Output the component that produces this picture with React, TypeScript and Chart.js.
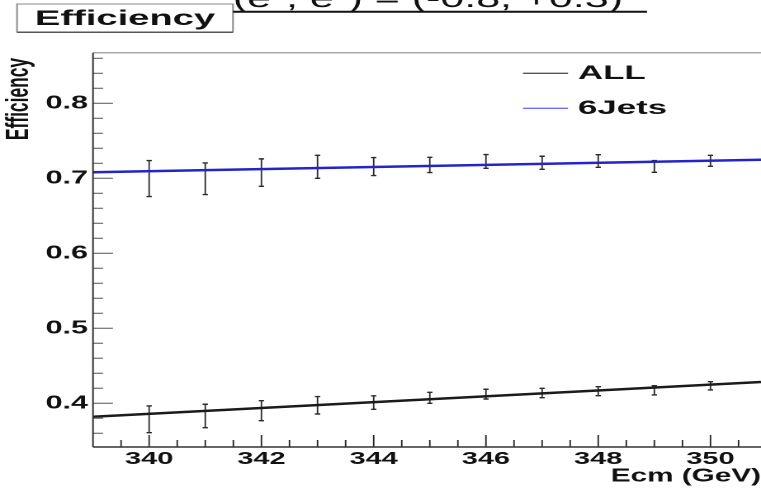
import React, { useEffect, useRef } from 'react';
import { Chart, registerables } from 'chart.js';

Chart.register(...registerables);

// Centre-of-mass energies of the scan points (GeV)
const energies = [340, 341, 342, 343, 344, 345, 346, 347, 348, 349, 350];

// Selection efficiency, all events
const allEff = [0.3786, 0.3831, 0.3901, 0.3973, 0.401, 0.4073, 0.4122, 0.4137, 0.4161, 0.4173, 0.4233];
const allErr = [0.0178, 0.0156, 0.0133, 0.0116, 0.009, 0.0073, 0.0065, 0.0063, 0.006, 0.0062, 0.0055];

// Selection efficiency, six-jet events
const jetsEff = [0.6996, 0.6994, 0.7076, 0.7153, 0.7156, 0.7178, 0.7225, 0.7207, 0.7231, 0.7158, 0.7233];
const jetsErr = [0.024, 0.0211, 0.0183, 0.0153, 0.012, 0.0102, 0.0092, 0.0087, 0.0084, 0.0078, 0.0073];

// Straight-line fits, evaluated at both ends of the energy axis
const fitEnergies = [339, 350.9];
const allFit = [0.382, 0.4284];
const jetsFit = [0.708, 0.7248];

// Labelled ticks
const yLabelTicks = [0.4, 0.5, 0.6, 0.7, 0.8];
const xLabelTicks = [340, 342, 344, 346, 348, 350];

// Axis ranges
const xRange = [339, 350.9];
const yRange = [0.3417, 0.8675];

// The canvas is laid out narrow and stretched sideways, giving the wide lettering of the plot
const OUT_W = 761;
const OUT_H = 489;
const W = 461;
const SX = OUT_W / W;
const PLOT_LEFT = 93 / SX;
const PLOT_TOP = 52.7;
const PLOT_BOTTOM = 447;
const FONT = "'Liberation Sans', Arial, Helvetica, sans-serif";

// draws text with an extra sideways stretch
function wideText(ctx: any, text: string, x: number, y: number, stretch: number) {
  ctx.save();
  ctx.translate(x, y);
  ctx.scale(stretch, 1);
  ctx.fillText(text, 0, 0);
  ctx.restore();
}

const frame = {
  id: 'frame',
  beforeDatasetsDraw(chart: any) {
    const { ctx, scales } = chart;
    const xs = scales.x;
    const ys = scales.y;
    ctx.save();
    ctx.beginPath();
    ctx.rect(chart.chartArea.left, chart.chartArea.top, chart.chartArea.right - chart.chartArea.left, chart.chartArea.bottom - chart.chartArea.top);
    ctx.clip();
    chart.data.datasets.forEach((ds: any) => {
      if (!ds.errors) return;
      ctx.strokeStyle = '#2a2a2a';
      ds.data.forEach((p: any, i: number) => {
        const px = xs.getPixelForValue(p.x);
        const top = ys.getPixelForValue(p.y + ds.errors[i]);
        const bot = ys.getPixelForValue(p.y - ds.errors[i]);
        ctx.lineWidth = 0.9;
        ctx.beginPath();
        ctx.moveTo(px, top);
        ctx.lineTo(px, bot);
        ctx.stroke();
        ctx.lineWidth = 1.4;
        ctx.beginPath();
        ctx.moveTo(px - 1.6, top);
        ctx.lineTo(px + 1.6, top);
        ctx.moveTo(px - 1.6, bot);
        ctx.lineTo(px + 1.6, bot);
        ctx.stroke();
      });
    });
    ctx.restore();
  },
  afterDraw(chart: any) {
    const { ctx, chartArea, scales } = chart;
    const xs = scales.x;
    const ys = scales.y;
    const { left, right, top, bottom } = chartArea;
    ctx.save();

    // frame top edge
    ctx.strokeStyle = '#a8a8a8';
    ctx.lineWidth = 1.5;
    ctx.beginPath();
    ctx.moveTo(left, top);
    ctx.lineTo(right, top);
    ctx.stroke();

    // y ticks, pointing inwards
    ctx.strokeStyle = '#707070';
    ctx.lineWidth = 1.2;
    for (let k = 18; k <= 43; k++) {
      const v = k / 50;
      const py = ys.getPixelForValue(v);
      if (py < top || py > bottom) continue;
      const len = k % 5 === 0 ? 12.1 : 6.1;
      ctx.beginPath();
      ctx.moveTo(left, py);
      ctx.lineTo(left + len, py);
      ctx.stroke();
    }

    // x ticks, pointing inwards
    ctx.strokeStyle = '#222';
    ctx.lineWidth = 0.9;
    for (let k = 679; k <= 701; k++) {
      const v = k / 2;
      const px = xs.getPixelForValue(v);
      if (px < left || px > right) continue;
      const len = k % 4 === 0 ? 12 : 7;
      ctx.beginPath();
      ctx.moveTo(px, bottom);
      ctx.lineTo(px, bottom - len);
      ctx.stroke();
    }

    // axis lines
    ctx.strokeStyle = '#333';
    ctx.lineWidth = 1;
    ctx.beginPath();
    ctx.moveTo(left, top);
    ctx.lineTo(left, bottom);
    ctx.stroke();
    ctx.lineWidth = 1.6;
    ctx.beginPath();
    ctx.moveTo(left, bottom);
    ctx.lineTo(right, bottom);
    ctx.stroke();

    // legend
    let ly = 73.3;
    chart.data.datasets.forEach((ds: any) => {
      if (!ds.legendColor) return;
      ctx.strokeStyle = ds.legendColor;
      ctx.lineWidth = 1.4;
      ctx.beginPath();
      ctx.moveTo(523 / SX, ly);
      ctx.lineTo(568 / SX, ly);
      ctx.stroke();
      ctx.fillStyle = '#111';
      ctx.font = `bold 19px ${FONT}`;
      ctx.textAlign = 'left';
      ctx.textBaseline = 'middle';
      wideText(ctx, ds.label, 578 / SX, ly + 0.5, 1.11);
      ly += 35;
    });

    // y axis title
    ctx.save();
    ctx.translate(11.8, 99);
    ctx.scale(1.12, 1);
    ctx.rotate(-Math.PI / 2);
    ctx.font = `bold 17.4px ${FONT}`;
    ctx.fillStyle = '#111';
    ctx.textAlign = 'center';
    ctx.textBaseline = 'middle';
    ctx.fillText('Efficiency', 0, 0);
    ctx.restore();

    // histogram title box
    ctx.fillStyle = '#fff';
    ctx.fillRect(17 / SX, 4, (233 - 17) / SX, 28);
    ctx.strokeStyle = '#8a8a8a';
    ctx.lineWidth = 1;
    ctx.strokeRect(17 / SX, 4, (233 - 17) / SX, 28);
    ctx.strokeStyle = '#555';
    ctx.lineWidth = 1.5;
    ctx.beginPath();
    ctx.moveTo(17 / SX, 32.3);
    ctx.lineTo(233 / SX, 32.3);
    ctx.stroke();
    ctx.fillStyle = '#111';
    ctx.font = `bold 21px ${FONT}`;
    ctx.textAlign = 'center';
    ctx.textBaseline = 'alphabetic';
    wideText(ctx, 'Efficiency', 125 / SX, 25, 1.1);

    // beam polarisation caption, running off the top edge
    ctx.fillStyle = '#111';
    ctx.font = `26px ${FONT}`;
    ctx.textAlign = 'left';
    ctx.fillText('(e\u207B, e\u207A) = (-0.8, +0.3)', 233 / SX, 7);
    ctx.strokeStyle = '#111';
    ctx.lineWidth = 2;
    ctx.beginPath();
    ctx.moveTo(233 / SX, 11.7);
    ctx.lineTo(647 / SX, 11.7);
    ctx.stroke();

    ctx.restore();
  },
};

export default function App() {
  const canvasRef = useRef<HTMLCanvasElement | null>(null);

  useEffect(() => {
    document.body.style.margin = '0';
    const canvas = canvasRef.current;
    if (!canvas) return;
    const tickFont = (size: number) => ({ family: FONT, size, weight: 'bold' as const });
    const chart = new Chart(canvas, {
      type: 'scatter',
      data: {
        datasets: [
          {
            label: 'ALL',
            data: fitEnergies.map((x, i) => ({ x, y: allFit[i] })),
            showLine: true,
            borderColor: '#1b1b1b',
            borderWidth: 2.5,
            pointRadius: 0,
            legendColor: '#555555',
          } as any,
          {
            label: '6Jets',
            data: fitEnergies.map((x, i) => ({ x, y: jetsFit[i] })),
            showLine: true,
            borderColor: '#2424c8',
            borderWidth: 2.5,
            pointRadius: 0,
            legendColor: '#6f6fff',
          } as any,
          {
            label: 'ALL data',
            data: energies.map((x, i) => ({ x, y: allEff[i] })),
            errors: allErr,
            showLine: false,
            pointRadius: 0,
          } as any,
          {
            label: '6Jets data',
            data: energies.map((x, i) => ({ x, y: jetsEff[i] })),
            errors: jetsErr,
            showLine: false,
            pointRadius: 0,
          } as any,
        ],
      },
      options: {
        animation: false,
        responsive: false,
        devicePixelRatio: 2,
        layout: { padding: { top: PLOT_TOP, left: 0, right: 0, bottom: 0 } },
        plugins: {
          legend: { display: false },
          tooltip: { enabled: false },
          title: { display: false },
        },
        scales: {
          x: {
            type: 'linear',
            min: xRange[0],
            max: xRange[1],
            grid: { display: false, drawTicks: false },
            border: { display: false },
            afterBuildTicks: (s: any) => {
              s.ticks = xLabelTicks.map((v) => ({ value: v }));
            },
            afterFit: (s: any) => {
              s.height = OUT_H - PLOT_BOTTOM;
            },
            ticks: {
              font: tickFont(17.5),
              color: '#111',
              padding: 1.5,
              maxRotation: 0,
              autoSkip: false,
              callback: (v: any) => String(v),
            },
            title: {
              display: true,
              text: 'Ecm (GeV)',
              align: 'end',
              font: tickFont(18),
              color: '#111',
              padding: { top: 0, bottom: 1.5 },
            },
          },
          y: {
            type: 'linear',
            min: yRange[0],
            max: yRange[1],
            grid: { display: false, drawTicks: false },
            border: { display: false },
            afterBuildTicks: (s: any) => {
              s.ticks = yLabelTicks.map((v) => ({ value: v }));
            },
            afterFit: (s: any) => {
              s.width = PLOT_LEFT;
            },
            ticks: {
              font: tickFont(18.5),
              color: '#111',
              padding: 3,
              autoSkip: false,
              callback: (v: any) => Number(v).toFixed(1),
            },
          },
        },
      },
      plugins: [frame],
    });
    return () => chart.destroy();
  }, []);

  return (
    <div style={{ position: 'fixed', left: 0, top: 0, width: OUT_W, height: OUT_H, overflow: 'hidden', background: '#fff' }}>
      <div style={{ width: W, height: OUT_H, transform: `scaleX(${SX})`, transformOrigin: '0 0' }}>
        <canvas ref={canvasRef} width={W} height={OUT_H} style={{ display: 'block' }} />
      </div>
    </div>
  );
}
